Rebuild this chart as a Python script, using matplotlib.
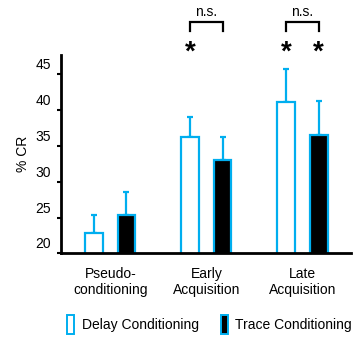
import matplotlib
matplotlib.use("Agg")
import matplotlib.pyplot as plt
import matplotlib.transforms as mtransforms
from matplotlib.patches import Rectangle
import numpy as np

plt.rcParams['font.family'] = ['Liberation Sans', 'DejaVu Sans']

# Data
groups = ["Pseudo-\nconditioning", "Early\nAcquisition", "Late\nAcquisition"]
delay_vals = [22.8, 36.3, 41.2]
delay_err_top = [25.4, 39.0, 45.8]
trace_vals = [25.3, 33.0, 36.5]
trace_err_top = [28.5, 36.3, 41.3]
yticks = [20, 25, 30, 35, 40, 45]
series_labels = ["Delay Conditioning", "Trace Conditioning"]

blue = "#00AEEF"

fig = plt.figure(figsize=(3.54, 3.37), dpi=100)
ax = fig.add_axes([61/354, 1-253.3/337, (351-61)/354, (253.3-55)/337])

x = np.arange(len(groups))
off = 0.168
w = 0.185

d_err = [np.zeros(3), np.array(delay_err_top) - np.array(delay_vals)]
t_err = [np.zeros(3), np.array(trace_err_top) - np.array(trace_vals)]

ax.bar(x - off, delay_vals, width=w, facecolor="white", edgecolor=blue, linewidth=1.6, zorder=2)
ax.bar(x + off, trace_vals, width=w, facecolor="black", edgecolor=blue, linewidth=1.6, zorder=2)
ax.errorbar(x - off, delay_vals, yerr=d_err, fmt="none", ecolor=blue, elinewidth=1.6,
            capsize=2.5, capthick=1.6, zorder=1)
ax.errorbar(x + off, trace_vals, yerr=t_err, fmt="none", ecolor=blue, elinewidth=1.6,
            capsize=2.5, capthick=1.6, zorder=1)

ax.set_ylim(20, 47.7)
ax.set_xlim(-0.513, 2.505)
ax.set_yticks(yticks)
ax.set_yticklabels([str(t) for t in yticks], fontsize=10)
ax.set_xticks(x)
ax.set_xticklabels(groups, fontsize=10, linespacing=1.2)
ax.tick_params(axis="x", length=0, pad=10)
ax.tick_params(axis="y", length=3, width=1.5, pad=4, direction="out")
for lab in ax.get_yticklabels():
    lab.set_transform(lab.get_transform() +
                      mtransforms.ScaledTranslation(0, 10.5/100, fig.dpi_scale_trans))

for s in ["top", "right"]:
    ax.spines[s].set_visible(False)
for s in ["left", "bottom"]:
    ax.spines[s].set_linewidth(2)

ax.set_ylabel("% CR", fontsize=10, labelpad=4)

# Significance markers
for xi in [x[1] - off, x[2] - off, x[2] + off]:
    ax.text(xi, 48.0, "*", ha="center", va="center", fontsize=20, fontweight="bold", clip_on=False)
for g in [1, 2]:
    ax.plot([x[g] - off, x[g] - off, x[g] + off, x[g] + off], [51.0, 52.25, 52.25, 51.0],
            color="black", linewidth=1.6, clip_on=False, solid_joinstyle="miter")
    ax.text(x[g], 53.7, "n.s.", ha="center", va="center", fontsize=10, clip_on=False)

# Legend
fig.patches.append(Rectangle((67/354, 1-333.5/337), 6.5/354, 19/337, transform=fig.transFigure,
                             facecolor="white", edgecolor=blue, linewidth=1.4))
fig.text(81.5/354, 1-325/337, series_labels[0], fontsize=10, va="center", ha="left")
fig.patches.append(Rectangle((221/354, 1-333.5/337), 6.5/354, 19/337, transform=fig.transFigure,
                             facecolor="black", edgecolor=blue, linewidth=1.4))
fig.text(235/354, 1-325/337, series_labels[1], fontsize=10, va="center", ha="left")

fig.savefig("out.png", dpi=100)
